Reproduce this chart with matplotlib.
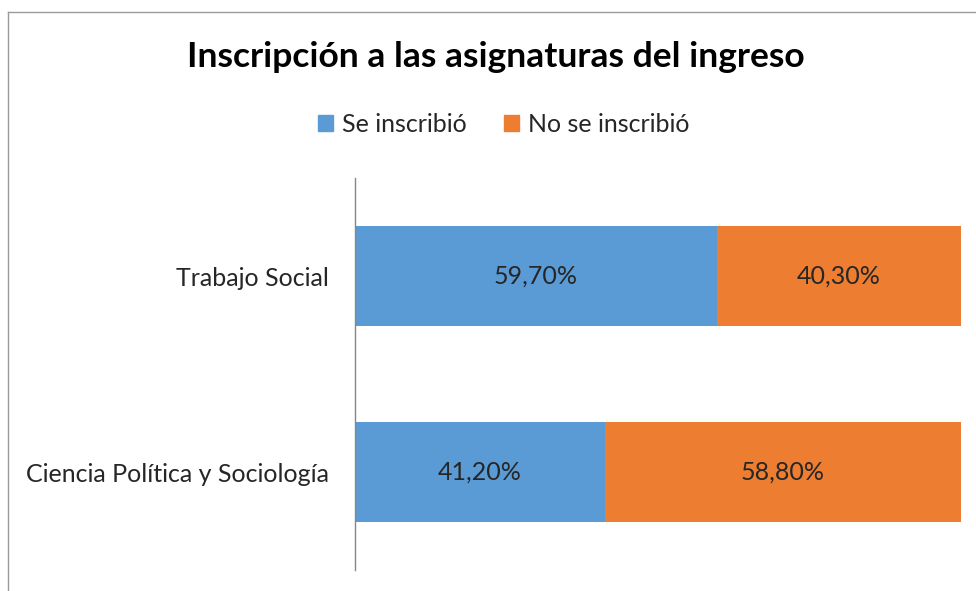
import matplotlib.pyplot as plt
from matplotlib.patches import Patch
from matplotlib.lines import Line2D

categorias = ['Ciencia Política y Sociología', 'Trabajo Social']
se_inscribio = [41.2, 59.7]
no_se_inscribio = [58.8, 40.3]
series = ['Se inscribió', 'No se inscribió']
colores = ['#5B9BD5', '#ED7D31']

plt.rcParams['font.family'] = ['Lato', 'DejaVu Sans']

W, H = 976, 591
fig = plt.figure(figsize=(W / 100, H / 100), dpi=100)
ax = fig.add_axes([355 / W, 1 - 570 / H, (961 - 355) / W, (570 - 178) / H])

y = range(len(categorias))
ax.barh(y, se_inscribio, height=0.51, color=colores[0])
ax.barh(y, no_se_inscribio, left=se_inscribio, height=0.51, color=colores[1])

for i in y:
    ax.text(se_inscribio[i] / 2, i, f'{se_inscribio[i]:.2f}%'.replace('.', ','),
            ha='center', va='center', fontsize=18, color='#262626')
    ax.text(se_inscribio[i] + no_se_inscribio[i] / 2, i,
            f'{no_se_inscribio[i]:.2f}%'.replace('.', ','),
            ha='center', va='center', fontsize=18, color='#262626')

ax.set_xlim(0, 100)
ax.set_ylim(-0.5, 1.5)
ax.set_yticks(list(y))
ax.set_yticklabels(categorias, fontsize=18, color='#262626')
ax.tick_params(axis='y', length=0, pad=19)
ax.set_xticks([])
for s in ['top', 'right', 'bottom']:
    ax.spines[s].set_visible(False)
ax.spines['left'].set_color('#868686')
ax.spines['left'].set_linewidth(1)

fig.text(496 / W, 1 - 57 / H, 'Inscripción a las asignaturas del ingreso',
         ha='center', va='center', fontsize=25.5, fontweight='bold', color='black')

handles = [Patch(color=c) for c in colores]
fig.legend(handles, series, loc='center', bbox_to_anchor=(504 / W, 1 - 124 / H),
           ncol=2, frameon=False, fontsize=18, handlelength=0.6, handleheight=0.6,
           handletextpad=0.35, columnspacing=1.5, labelcolor='#262626')

# marco del gráfico (recortado a la derecha y abajo)
fig.add_artist(Line2D([8 / W, 8 / W], [0, 1 - 12 / H], color='#9a9a9a', lw=1))
fig.add_artist(Line2D([8 / W, 1], [1 - 12 / H, 1 - 12 / H], color='#9a9a9a', lw=1))

fig.savefig('out.png', dpi=100)
